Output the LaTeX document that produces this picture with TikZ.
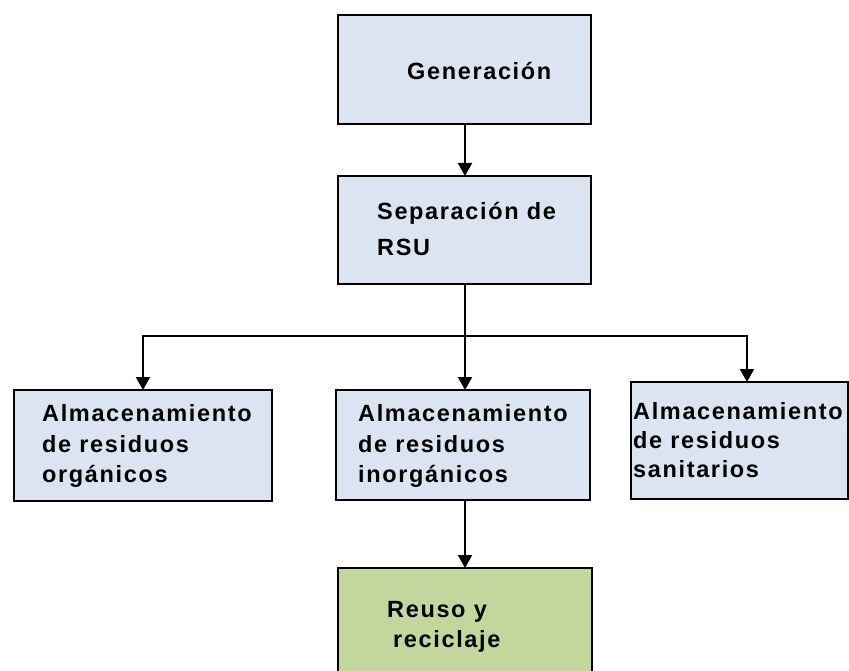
\documentclass[tikz,border=0pt]{standalone}
\usepackage{fontspec}
\setmainfont{Liberation Sans}
\newfontfamily\boxfont[LetterSpace=7]{Liberation Sans}
\usetikzlibrary{arrows.meta}
\definecolor{boxblue}{HTML}{DBE5F1}
\definecolor{boxgreen}{HTML}{C3D69B}
\begin{document}
\begin{tikzpicture}[x=1pt,y=-1pt,
  box/.style={draw=black, line width=2pt, fill=boxblue, inner sep=0pt, outer sep=0pt, anchor=north west},
  txt/.style={anchor=base west, inner sep=0pt, font=\boxfont\bfseries\fontsize{23.5}{28}\selectfont},
  conn/.style={draw=black, line width=2.2pt},
  arr/.style={conn, -{Triangle[width=14pt,length=13pt]}}]
\clip (0,0) rectangle (849,671);
\fill[white] (0,0) rectangle (849,671);
% boxes
\node[box, minimum width=253pt, minimum height=109pt] (gen) at (338,15) {};
\node[box, minimum width=253pt, minimum height=108pt] (sep) at (338,176) {};
\node[box, minimum width=258pt, minimum height=111pt] (org) at (14,390) {};
\node[box, minimum width=254pt, minimum height=110pt] (inorg) at (336,390) {};
\node[box, minimum width=217pt, minimum height=117pt] (sani) at (631,382) {};
\node[box, fill=boxgreen, minimum width=254pt, minimum height=130pt] (reuso) at (338,568) {};
% texts
\node[txt] (tgen) at (407,80) {Generación};
\node[txt] (tsep1) at (377,220) {Separación de};
\node[txt] (tsep2) at (377,256) {RSU};
\node[txt] (torg1) at (42,421) {Almacenamiento};
\node[txt] (torg2) at (42,452) {de residuos};
\node[txt] (torg3) at (42,482) {orgánicos};
\node[txt] (tin1) at (358,421) {Almacenamiento};
\node[txt] (tin2) at (358,452) {de residuos};
\node[txt] (tin3) at (358,482) {inorgánicos};
\node[txt] (tsa1) at (633,419) {Almacenamiento};
\node[txt] (tsa2) at (633,448) {de residuos};
\node[txt] (tsa3) at (633,477) {sanitarios};
\node[txt] (tre1) at (387,617) {Reuso y};
\node[txt] (tre2) at (393,647) {reciclaje};
% connectors
\coordinate (j) at (465,336);
\coordinate (sanitop) at (747,382);
\draw[arr] (gen.south -| j) -- (sep.north -| j);
\draw[conn] (sep.south -| j) -- (j);
\draw[arr] (j) -| (org.north);
\draw[arr] (j) -- (inorg.north -| j);
\draw[arr] (j) -| (sanitop);
\draw[arr] (inorg.south -| j) -- (reuso.north -| j);
\end{tikzpicture}
\end{document}
